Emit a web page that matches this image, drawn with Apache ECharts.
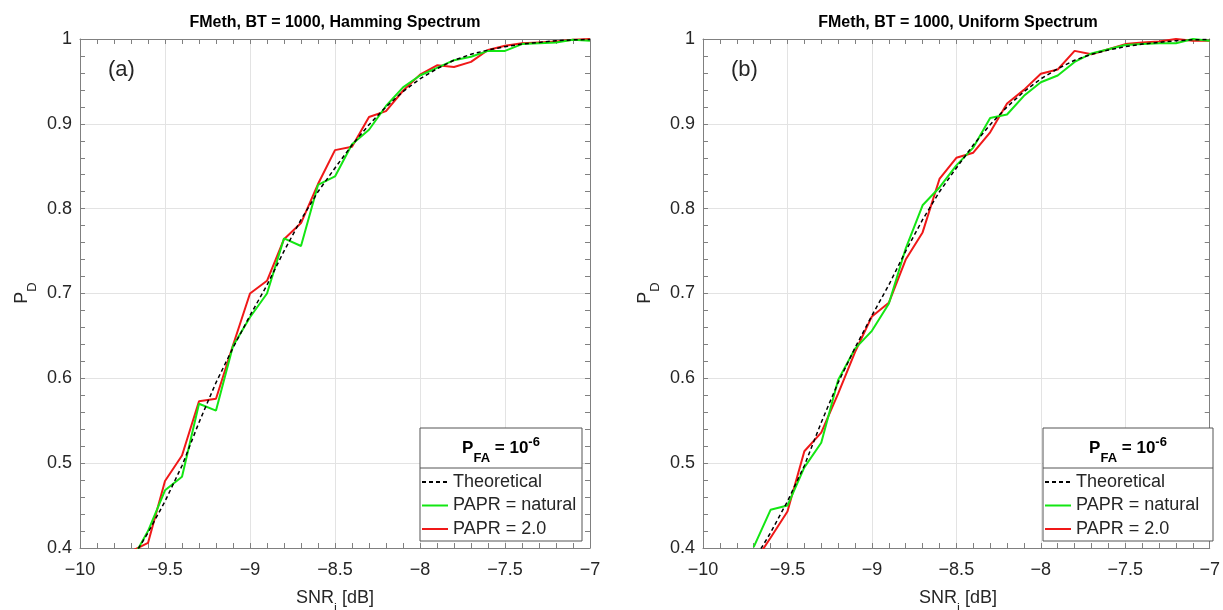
<!DOCTYPE html>
<html><head><meta charset="utf-8">
<script src="https://cdn.jsdelivr.net/npm/echarts@6/dist/echarts.min.js"></script>
<style>html,body{margin:0;padding:0;background:#fff}#c{width:1223px;height:610px}</style>
</head><body><div id="c"></div>
<script>
// ---- data ----
const snr = [-9.7,-9.6,-9.5,-9.4,-9.3,-9.2,-9.1,-9.0,-8.9,-8.8,-8.7,-8.6,-8.5,-8.4,-8.3,-8.2,-8.1,-8.0,-7.9,-7.8,-7.7,-7.6,-7.5,-7.4,-7.3,-7.2,-7.1,-7.0];
const theoretical = [0.385,0.418,0.455,0.497,0.548,0.595,0.636,0.674,0.710,0.750,0.787,0.820,0.848,0.875,0.899,0.920,0.938,0.953,0.965,0.975,0.982,0.987,0.991,0.994,0.996,0.998,0.999,0.9995];
const hammingNatural = [0.384,0.420,0.468,0.484,0.570,0.562,0.638,0.672,0.700,0.765,0.756,0.828,0.838,0.876,0.893,0.921,0.943,0.957,0.966,0.975,0.979,0.986,0.986,0.994,0.995,0.996,0.999,0.998];
const hammingPapr2 = [0.396,0.406,0.479,0.509,0.573,0.576,0.639,0.700,0.715,0.764,0.783,0.829,0.869,0.873,0.908,0.915,0.939,0.958,0.969,0.967,0.973,0.987,0.992,0.995,0.996,0.997,0.999,1.0];
const uniformNatural = [0.401,0.445,0.450,0.495,0.524,0.598,0.635,0.656,0.688,0.753,0.804,0.825,0.851,0.872,0.907,0.911,0.933,0.949,0.957,0.973,0.983,0.988,0.993,0.994,0.995,0.995,1.0,0.998];
const uniformPapr2 = [0.382,0.412,0.443,0.514,0.536,0.582,0.631,0.673,0.689,0.740,0.772,0.835,0.860,0.866,0.890,0.924,0.940,0.959,0.964,0.986,0.982,0.988,0.994,0.996,0.997,1.0,0.998,0.998];
const panelTitles = ['FMeth, BT = 1000, Hamming Spectrum', 'FMeth, BT = 1000, Uniform Spectrum'];
const panelTags = ['(a)', '(b)'];
const seriesNames = ['Theoretical', 'PAPR = natural', 'PAPR = 2.0'];

// ---- layout / styling ----
const FONT = '"Liberation Sans", Arial, Helvetica, sans-serif';
const TXT = '#262626';
const FRAME = '#808080';
const grids = [{left: 80, top: 39, width: 510, height: 509}, {left: 703, top: 39, width: 510, height: 509}];
const panelData = [[theoretical, hammingNatural, hammingPapr2], [theoretical, uniformNatural, uniformPapr2]];
const colors = ['#000000', '#13e613', '#f01818'];
const legendBoxes = [{x: 420, w: 162}, {x: 1043, w: 170}];

const pair = ys => snr.map((x, i) => [x, ys[i]]);
const fmtMinus = v => String(v).replace('-', '\u2212');

// rich-text styles for sub/superscripts (line height 34: main centred at 17)
const richSet = (size, weight, fill) => ({
  m: {fontSize: size, fontWeight: weight, fontFamily: FONT, lineHeight: 34, verticalAlign: 'middle', fill: fill},
  s: {fontSize: 13, fontWeight: weight, fontFamily: FONT, lineHeight: 16, verticalAlign: 'bottom', fill: fill},
  u: {fontSize: 13, fontWeight: weight, fontFamily: FONT, lineHeight: 16, verticalAlign: 'top', padding: [5, 0, 0, 0], fill: fill}
});

const xAxes = [], yAxes = [], series = [], legends = [], graphics = [];
grids.forEach((g, gi) => {
  const tickCommon = {inside: true, length: 5, lineStyle: {color: FRAME}};
  const minorCommon = {show: true, splitNumber: 5, length: 5, lineStyle: {color: FRAME}};
  xAxes.push({
    type: 'value', gridIndex: gi, min: -10, max: -7, interval: 0.5, position: 'bottom',
    axisLine: {lineStyle: {color: FRAME}}, axisTick: tickCommon, minorTick: minorCommon,
    splitLine: {show: true, lineStyle: {color: '#e3e3e3'}},
    axisLabel: {color: TXT, fontSize: 18, fontFamily: FONT, margin: 13, formatter: fmtMinus}
  });
  xAxes.push({
    type: 'value', gridIndex: gi, min: -10, max: -7, interval: 0.5, position: 'top',
    axisLine: {lineStyle: {color: FRAME}}, axisTick: tickCommon, minorTick: minorCommon,
    splitLine: {show: false}, axisLabel: {show: false}
  });
  yAxes.push({
    type: 'value', gridIndex: gi, min: 0.4, max: 1, interval: 0.1, position: 'left',
    axisLine: {show: true, lineStyle: {color: FRAME}}, axisTick: tickCommon, minorTick: minorCommon,
    splitLine: {show: true, lineStyle: {color: '#e3e3e3'}},
    axisLabel: {color: TXT, fontSize: 18, fontFamily: FONT, margin: 8}
  });
  yAxes.push({
    type: 'value', gridIndex: gi, min: 0.4, max: 1, interval: 0.1, position: 'right',
    axisLine: {show: true, lineStyle: {color: FRAME}}, axisTick: tickCommon, minorTick: minorCommon,
    splitLine: {show: false}, axisLabel: {show: false}
  });
  panelData[gi].forEach((ys, si) => {
    series.push({
      type: 'line', name: seriesNames[si], xAxisIndex: gi * 2, yAxisIndex: gi * 2,
      data: pair(ys), symbol: 'none', clip: true, silent: true, z: 10 - si,
      lineStyle: si === 0 ? {color: colors[si], width: 1.5, type: [4, 3]} : {color: colors[si], width: 2},
      itemStyle: {color: colors[si]}
    });
  });
  const lb = legendBoxes[gi];
  legends.push({
    orient: 'vertical', left: lb.x + 1, top: 473, itemWidth: 26, itemHeight: 12, itemGap: 5.5,
    padding: 0, selectedMode: false, data: seriesNames,
    itemStyle: {opacity: 0},
    textStyle: {fontSize: 18, fontFamily: FONT, color: TXT, lineHeight: 18}
  });
  graphics.push({type: 'rect', shape: {x: lb.x, y: 428, width: lb.w, height: 113}, style: {fill: '#fff', stroke: '#555', lineWidth: 1}, z: 1});
  graphics.push({type: 'line', shape: {x1: lb.x, y1: 468, x2: lb.x + lb.w, y2: 468}, style: {stroke: '#555', lineWidth: 1}, z: 2});
  graphics.push({type: 'text', z: 3, style: {
    x: lb.x + lb.w / 2, y: 448, align: 'center', verticalAlign: 'middle',
    text: '{m|P}{s|FA}{m| = 10}{u|-6}', fill: '#000', rich: richSet(17, 'bold', '#000')}});
  const cx = g.left + g.width / 2;
  graphics.push({type: 'text', z: 3, style: {x: cx, y: 23, align: 'center', verticalAlign: 'middle', text: panelTitles[gi],
    font: 'bold 16px ' + FONT, fill: '#000'}});
  graphics.push({type: 'text', z: 3, style: {x: g.left + 28, y: 70, align: 'left', verticalAlign: 'middle', text: panelTags[gi],
    font: '22px ' + FONT, fill: TXT}});
  graphics.push({type: 'text', z: 3, style: {x: cx, y: 598, align: 'center', verticalAlign: 'middle',
    text: '{m|SNR}{s|i}{m| [dB]}', rich: richSet(18, 'normal', TXT)}});
  graphics.push({type: 'text', z: 3, x: g.left - 58, y: 293, rotation: Math.PI / 2, style: {x: 0, y: 0, align: 'center', verticalAlign: 'middle',
    text: '{m|P}{s|D}', rich: richSet(18, 'normal', TXT)}});
});

const chart = echarts.init(document.getElementById('c'), null, {renderer: 'canvas'});
chart.setOption({
  backgroundColor: '#fff',
  animation: false,
  grid: grids,
  xAxis: xAxes,
  yAxis: yAxes,
  legend: legends,
  series: series,
  graphic: graphics
});
</script></body></html>
